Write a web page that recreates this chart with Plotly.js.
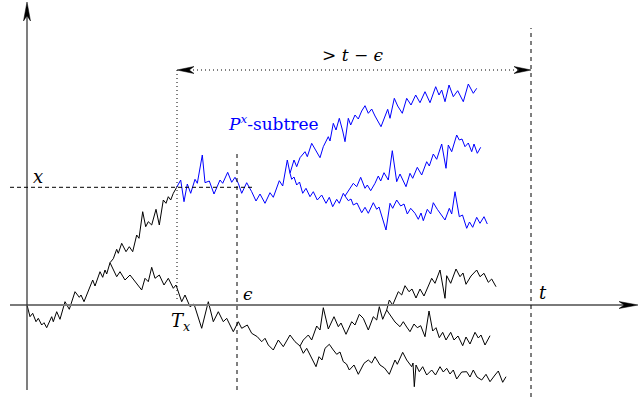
<!DOCTYPE html>
<html>
<head>
<meta charset="utf-8">
<script src="https://cdn.plot.ly/plotly-3.0.1.min.js"></script>
<style>html,body{margin:0;padding:0;background:#fff}#chart{width:639px;height:401px}</style>
</head>
<body>
<div id="chart"></div>
<script>
// ---- values (time t, value v) ----
// black stem from the origin to the first branch point
const stemT = [0, 3, 5.7, 9, 11.3, 14.7, 17, 19.7, 24.7, 26.3, 29.7, 33, 38, 42.3, 48, 52.3, 54, 57, 65.7, 68, 73, 75.7, 78, 79.7, 83];
const stemV = [0, -11.7, -8.3, -16.7, -13.3, -20, -17.7, -22.7, -11.7, -16.7, -6.7, -14.3, 3.3, -4.3, 13.3, 7.7, 10, 3.3, 25, 19, 33.3, 27.7, 35, 31, 42.3];
// black branch that reaches level x at T_x
const hitT = [83, 86.3, 89.7, 91.3, 94.7, 99, 102.3, 105.7, 109.7, 112, 115.7, 118.7, 121.3, 124.7, 129, 132.3, 136.3, 139, 141.3, 143.7, 146.3, 149.7];
const hitV = [42.3, 46.3, 55.7, 51.7, 61.7, 53.3, 58.3, 53.3, 70, 66.7, 93.3, 78.3, 83.3, 80, 95.7, 80, 105, 101.7, 108.3, 105, 111.7, 117.7];
// black branch going down to the second black branch point
const lowT = [83, 89.7, 93, 98, 103, 108, 114.7, 118, 121.3, 124.7, 128, 132.3, 137, 141.3, 146.3, 149, 154.7, 158, 163, 167, 174.7, 181.3, 186.3, 191.3, 196.3, 199.7, 206.3, 211.3, 214.7, 220.3, 224.7, 230.3, 234.7, 238, 241.3, 246.3, 251.3, 256.3, 263, 268, 273];
const lowV = [42.3, 28.3, 33.3, 25, 30, 23.3, 15, 26.7, 23.3, 37.7, 26.7, 30, 20, 26.7, 16.7, 20, 3.3, 10, -1.7, 1, -23.3, 3.3, -16.7, -6.7, -16.7, -13.3, -26.7, -16.7, -23.3, -20, -28.3, -31.7, -36.7, -33.3, -40, -45, -35, -41.7, -30, -36.7, -41];
// black middle branch up to the third black branch point
const midT = [273, 276.3, 281.3, 284.7, 289.7, 293, 296.3, 301.3, 307, 311.3, 314, 319, 324.7, 328, 332.3, 336.3, 341.3, 346.3, 349.7, 352.3, 355.7, 359.7];
const midV = [-41, -35, -30, -35, -21, -25, -2.7, -24, -11.7, -21.7, -18, -29.3, -16.7, -20, -9.3, -13.3, -25, -11.7, -15, -1.7, -14.3, -5];
// black branch ending above the axis
const bUpT = [359.7, 362.3, 365.7, 371.3, 374.7, 378, 382, 385, 389, 393, 397, 401, 404.7, 408, 413, 418, 419.7, 423.7, 429, 433, 436, 439, 444, 449.7, 453, 457, 461.3, 464.7, 469];
const bUpV = [-5, 5, 0, 13.3, 10, 19.3, 13.3, 16, 7, 16, 9, 18, 26.7, 21.7, 35, 6.7, 29.3, 21.7, 36, 28.3, 32, 20.7, 29, 35, 28.3, 31.7, 22.7, 26, 18.3];
// black branch ending just below the axis
const bDnT = [359.7, 364.7, 368, 373, 376.3, 379.7, 383, 387, 390.3, 393.7, 398, 402, 405.7, 409, 412.3, 415.7, 419, 423.7, 427, 431, 435.7, 439, 443, 448, 451.3, 454, 458, 463];
const bDnV = [-5, -12.7, -17, -21.7, -16.7, -22, -26.7, -19, -22.7, -20.7, -31.7, -6, -26, -22.7, -32.7, -27.3, -35, -27.3, -35, -31, -40.7, -32, -39, -27.3, -33, -30, -40, -30.7];
// lowest black branch
const bLowT = [273, 276.3, 279.7, 284.7, 289, 292, 295, 298, 302.3, 306.3, 309.7, 313, 316.3, 319.5, 322.3, 327, 331.3, 337, 341.3, 344.7, 348, 353, 357.5, 362.3, 368, 370.3, 375.7, 379.7, 384.7, 386, 387.3, 389, 392.3, 395.7, 399.7, 404.7, 408.5, 413, 416.3, 419.7, 423, 426.3, 429.7, 434.7, 439.7, 443, 446.3, 450, 454.7, 459, 463, 468, 471.3, 475.7, 479];
const bLowV = [-41, -48.3, -43.3, -53.3, -61.7, -51.7, -55, -43.3, -39.3, -45, -49.3, -47, -56.7, -59, -65, -60, -69.3, -58.3, -55, -58, -51.7, -60, -63, -69.3, -55, -59.3, -47.3, -55, -61.7, -58, -81.7, -60, -66.7, -61.7, -70, -65, -70, -61.7, -67, -63.3, -69, -65, -74, -67, -66.7, -72, -65, -72, -75, -69.3, -76.7, -70, -66, -77.3, -71.7];
// blue P^x-subtree: stem from T_x to first blue branch point
const pStemT = [149.7, 153.7, 157, 160.3, 163.7, 168, 170.3, 175.3, 178, 182.3, 187, 193, 195.7, 200.7, 204.7, 208, 211.3, 214.7, 219.7, 224.7, 229, 233, 238, 243, 246.3, 252.3, 255.7, 260.3, 263];
const pStemV = [117.7, 125, 103.3, 121, 111.7, 125.7, 121.7, 150, 122.3, 124, 111, 125, 121.7, 132.7, 122.7, 127.7, 121.7, 111.7, 122.3, 113.3, 104, 111, 101.7, 112.3, 107.7, 124.3, 119, 145, 131.7];
// blue top branch
const pUpT = [263, 267, 269.7, 273, 278, 280.3, 284.7, 287.3, 293, 296.3, 301.3, 303, 306.3, 309, 312.3, 315.7, 318, 321.3, 323.7, 328, 331.3, 334.7, 338, 341.3, 344.7, 348, 354, 360.7, 363, 367.3, 370.7, 375.3, 379.7, 384, 388.7, 393, 398, 403, 408.7, 412, 414.7, 418, 422, 426.3, 430.7, 436.3, 441.3, 446.3, 449.7];
const pUpV = [131.7, 145, 138.3, 147.3, 153.3, 148.3, 161.7, 156.7, 147.3, 158.3, 168.3, 164, 181.7, 175, 186.7, 174, 163.3, 186.7, 180, 190, 186, 194, 199.3, 191.7, 196, 189, 178.3, 195.7, 186.7, 206.7, 199, 191.7, 206.7, 200, 210, 202.3, 213.3, 202.3, 218.3, 210, 215, 203.3, 220, 208.3, 214.3, 203.3, 221, 211.7, 216.7];
// blue branch down to the second blue branch point
const pSegT = [263, 264.7, 267, 269.7, 272.5, 275.7, 279, 283, 286.3, 290.3, 294.7, 299, 302.3, 305.7, 309.7, 312.3, 316.3, 318];
const pSegV = [131.7, 125.7, 128, 120, 123, 111.7, 116.7, 108.3, 113.3, 105, 110, 101.7, 107.7, 98.3, 105.7, 101.7, 111.7, 109];
// blue middle branch
const pMidT = [318, 322.3, 326.3, 329.7, 333.7, 338, 340.3, 343.7, 348, 351.3, 353.7, 357, 361.3, 365.3, 369.7, 373, 379, 383, 385.7, 390.3, 394.7, 399.7, 402.3, 406.3, 409.7, 414.7, 419, 421.3, 424.7, 429.7, 432.3, 435, 438, 441.3, 444.7, 447, 450.3, 453.7];
const pMidV = [109, 115, 121.7, 118.3, 127.7, 116.7, 120, 114.3, 121.7, 129, 124, 132.3, 125, 154.3, 123.3, 131, 118.3, 131.7, 126.7, 137.7, 130, 143.3, 139, 151, 145.7, 161, 136.7, 160, 153.3, 170, 165, 166, 158.3, 162, 153.3, 161, 151.7, 157.7];
// blue lowest branch
const pLowT = [318, 321.3, 324, 326.3, 330, 334.7, 338, 341.3, 346.3, 349.7, 352, 354.7, 359, 363, 365.7, 369.7, 373.7, 377, 380.3, 383.7, 388, 391.3, 394, 396.3, 400.3, 403.7, 406.3, 410.3, 414, 418, 422.3, 424.7, 428, 432.3, 435.5, 439.7, 442.5, 445.7, 449.7, 453, 457, 460.3];
const pLowV = [109, 104.3, 106, 100, 102, 92.3, 97.7, 91.7, 102.3, 95.7, 98, 90, 75, 101.7, 96.7, 105, 99, 101, 91, 96.7, 91.7, 85.7, 92, 84.3, 95.7, 91, 102.3, 95.7, 91, 85, 96.7, 91, 113.3, 88.3, 90, 76.7, 83, 77.7, 87.7, 81.7, 88.3, 81];

// reference levels / times
const levelX = 117.7;
const timeTx = 150;
const timeEps = 210;
const timeT = 504;
const arrowLevel = 235;

const BLUE = '#0000ff';
const blackWalks = [[stemT, stemV], [hitT, hitV], [lowT, lowV], [midT, midV], [bUpT, bUpV], [bDnT, bDnV], [bLowT, bLowV]];
const blueWalks = [[pStemT, pStemV], [pUpT, pUpV], [pSegT, pSegV], [pMidT, pMidV], [pLowT, pLowV]];

const traces = [];
blackWalks.forEach(([t, v]) => traces.push({x: t, y: v, type: 'scatter', mode: 'lines', line: {color: '#000', width: 1}, hoverinfo: 'skip', showlegend: false}));
blueWalks.forEach(([t, v]) => traces.push({x: t, y: v, type: 'scatter', mode: 'lines', line: {color: BLUE, width: 1}, hoverinfo: 'skip', showlegend: false}));

// stealth arrow head as a path (1 data unit = 1 px here)
function head(tx, ty, dx, dy, L, W, color) {
  const bx = tx - dx * L, by = ty - dy * L;
  const px = -dy, py = dx;
  const nx = tx - dx * L * 0.72, ny = ty - dy * L * 0.72;
  const p = `M${tx},${ty} L${bx + px * W / 2},${by + py * W / 2} L${nx},${ny} L${bx - px * W / 2},${by - py * W / 2} Z`;
  return {type: 'path', path: p, xref: 'x', yref: 'y', fillcolor: color, line: {color: color, width: 0.5}};
}

const shapes = [
  // axes
  {type: 'line', x0: -17, x1: 606, y0: 0, y1: 0, line: {color: '#7a7a7a', width: 1.8}},
  {type: 'line', x0: 0, x1: 0, y0: -85, y1: 290, line: {color: '#3a3a3a', width: 1.3}},
  // level x
  {type: 'line', x0: -17, x1: 228, y0: levelX, y1: levelX, line: {color: '#000', width: 1, dash: '4px,3px'}},
  // T_x dotted
  {type: 'line', x0: timeTx, x1: timeTx, y0: 6, y1: arrowLevel, line: {color: '#000', width: 1, dash: '1px,3px'}},
  // epsilon dashed
  {type: 'line', x0: timeEps, x1: timeEps, y0: -85, y1: 153, line: {color: '#000', width: 1, dash: '4px,4px'}},
  // t dashed
  {type: 'line', x0: timeT, x1: timeT, y0: -92, y1: 277, line: {color: '#000', width: 1, dash: '4px,4px'}},
  // > t - eps dotted double arrow
  {type: 'line', x0: timeTx + 8, x1: timeT - 8, y0: arrowLevel, y1: arrowLevel, line: {color: '#000', width: 1, dash: '1px,3px'}},
  head(timeTx, arrowLevel, -1, 0, 17, 7, '#000'),
  head(timeT, arrowLevel, 1, 0, 17, 7, '#000'),
  head(0, 303, 0, 1, 19, 7, '#000'),
  head(611, 0, 1, 0, 19, 7, '#000')
];

const F = 'DejaVu Serif';
const ann = (x, y, text, size, color) => ({x, y, xref: 'x', yref: 'y', text, showarrow: false, font: {family: F, size, color: color || '#000'}, xanchor: 'center', yanchor: 'middle'});
const annotations = [
  ann(11, 129, '<i>x</i>', 18),
  ann(221, 11, '<i>ϵ</i>', 17),
  ann(516, 13, '<i>t</i>', 18),
  ann(153, -17, '<i>T</i><sub><i>x</i></sub>', 18),
  ann(326, 250, '&gt; <i>t</i> − <i>ϵ</i>', 17),
  ann(246, 182, '<i>P</i><sup><i>x</i></sup>-subtree', 17, BLUE)
];

const layout = {
  width: 639, height: 401,
  margin: {l: 0, r: 0, t: 0, b: 0, pad: 0},
  paper_bgcolor: '#fff', plot_bgcolor: '#fff',
  font: {family: F},
  xaxis: {range: [-27, 612], visible: false, fixedrange: true},
  yaxis: {range: [-96, 305], visible: false, fixedrange: true},
  shapes, annotations, showlegend: false
};
Plotly.newPlot('chart', traces, layout, {staticPlot: true, displayModeBar: false});
</script>
</body>
</html>
